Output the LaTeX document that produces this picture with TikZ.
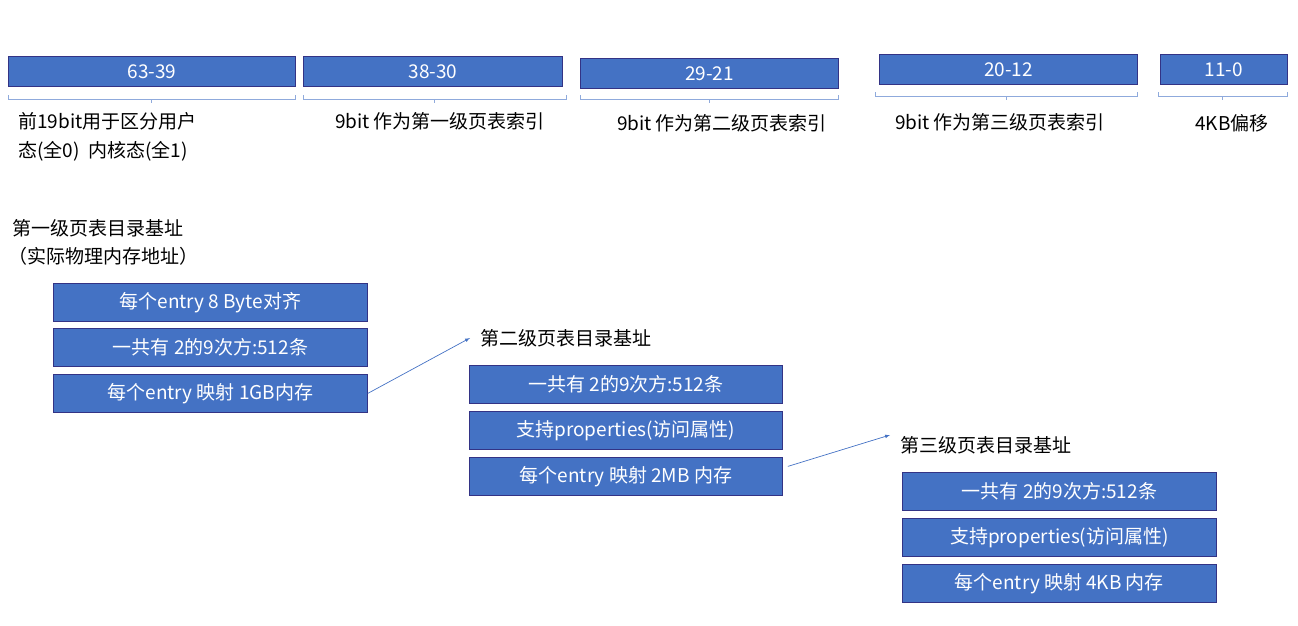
\documentclass[tikz,border=0pt]{standalone}
\usepackage{fontspec}
\setmainfont{Noto Sans CJK SC}
\begin{document}
\begin{tikzpicture}[x=1pt,y=-1pt,
 bx/.style={draw=blue!40!black!80,line width=0.8pt,fill={rgb,255:red,68;green,114;blue,196},text=white,font=\fontsize{19}{22}\selectfont},
 lb/.style={anchor=west,font=\fontsize{19}{22}\selectfont,inner sep=0pt},
 br/.style={draw={rgb,255:red,143;green,170;blue,220},line width=1pt},
 ar/.style={draw={rgb,255:red,68;green,114;blue,196},-latex,line width=0.7pt}]
\useasboundingbox (0,0) rectangle (1298,626);
\newcommand\topbox[5]{\node[bx,minimum width={#3-#2},minimum height=30,anchor=north west,inner sep=0pt] (#1) at (#2,#4) {#5};}
\topbox{t1}{8}{295}{56}{63-39}
\topbox{t2}{303}{562}{56}{38-30}
\topbox{t3}{580}{838}{58}{29-21}
\topbox{t4}{879}{1137}{54}{20-12}
\topbox{t5}{1160}{1287}{54}{11-0}
\foreach \a/\b/\y in {8/295/99,303/566/99,580/838/99,875/1137/96,1158/1287/96}{
 \draw[br] (\a,\y-4) -- (\a,\y) -- (\b,\y) -- (\b,\y-4);
 \draw[br] ({(\a+\b)/2},\y) -- ({(\a+\b)/2},\y+4);}
\node[lb] (l1) at (18,121) {前19bit用于区分用户};
\node[lb] (l1b) at (18,151) {态(全0)\ \ 内核态(全1)};
\node[lb,anchor=center] (l2) at (440,121) {9bit 作为第一级页表索引};
\node[lb,anchor=center] (l3) at (722,123) {9bit 作为第二级页表索引};
\node[lb,anchor=center] (l4) at (1000,122) {9bit 作为第三级页表索引};
\node[lb,anchor=center] (l5) at (1232,123) {4KB偏移};
\node[lb] (h1) at (12,228) {第一级页表目录基址};
\node[lb] (h1b) at (8,256) {（实际物理内存地址）};
\newcommand\gbox[5]{\node[bx,minimum width={#3-#2},minimum height=38,anchor=north west,inner sep=0pt] (#1) at (#2,#4) {#5};}
\gbox{a1}{53}{367}{283}{每个entry 8 Byte对齐}
\gbox{a2}{53}{367}{328}{一共有 2的9次方:512条}
\gbox{a3}{53}{367}{374}{每个entry 映射 1GB内存}
\node[lb] (h2) at (480,338) {第二级页表目录基址};
\gbox{b1}{469}{782}{365}{一共有 2的9次方:512条}
\gbox{b2}{469}{782}{411}{支持properties(访问属性)}
\gbox{b3}{469}{782}{457}{每个entry 映射 2MB 内存}
\node[lb] (h3) at (900,445) {第三级页表目录基址};
\gbox{c1}{902}{1216}{472}{一共有 2的9次方:512条}
\gbox{c2}{902}{1216}{518}{支持properties(访问属性)}
\gbox{c3}{902}{1216}{564}{每个entry 映射 4KB 内存}
\draw[ar] (a3.east) -- ([xshift=-10pt]h2.west);
\draw[ar] ([xshift=5pt,yshift=10pt]b3.east) -- ([xshift=-10pt,yshift=10pt]h3.west);
\end{tikzpicture}
\end{document}
